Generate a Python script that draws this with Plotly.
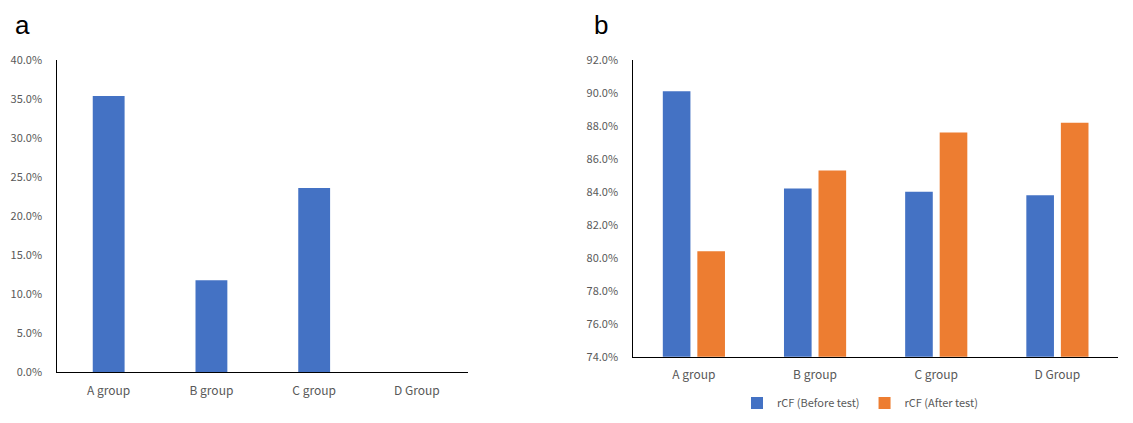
import plotly.graph_objects as go

categories = ["A group", "B group", "C group", "D Group"]
panel_a_values = [0.354, 0.118, 0.236, 0.0]
rcf_before = [0.901, 0.842, 0.840, 0.838]
rcf_after = [0.804, 0.853, 0.876, 0.882]
panel_a_ticks = [0.0, 0.05, 0.10, 0.15, 0.20, 0.25, 0.30, 0.35, 0.40]
panel_b_ticks = [0.74, 0.76, 0.78, 0.80, 0.82, 0.84, 0.86, 0.88, 0.90, 0.92]

BLUE = "#4472C4"
ORANGE = "#ED7D31"
FONT = "Noto Sans CJK KR"
TICK_COLOR = "#595959"

OFF = 8  # page body margin
W, H = 1133 - OFF, 423 - OFF
def px_x(a, b):
    return [(a - OFF) / W, (b - OFF) / W]
def px_y(top, bottom):
    return [(H - (bottom - OFF)) / H, (H - (top - OFF)) / H]
def pxx(a):
    return (a - OFF) / W
def pxy(a):
    return (H - (a - OFF)) / H

fig = go.Figure()
fig.add_trace(go.Bar(x=categories, y=panel_a_values, marker_color=BLUE,
                     marker_line_width=0, showlegend=False, xaxis="x", yaxis="y",
                     width=0.31))
fig.add_trace(go.Bar(x=categories, y=rcf_before, marker_color=BLUE, marker_line_width=0,
                     name="rCF (Before test)", xaxis="x2", yaxis="y2", base=0))
fig.add_trace(go.Bar(x=categories, y=rcf_after, marker_color=ORANGE, marker_line_width=0,
                     name="rCF (After test)", xaxis="x2", yaxis="y2", base=0))

axis_common = dict(showgrid=False, zeroline=False, showline=True, linecolor="#000000",
                   linewidth=1, automargin=False, ticks="")
x_font = dict(family=FONT, size=12, color=TICK_COLOR)
y_font = dict(family=FONT, size=11, color=TICK_COLOR)

fig.update_layout(
    width=W, height=H,
    margin=dict(l=0, r=0, t=0, b=0, autoexpand=False),
    paper_bgcolor="white", plot_bgcolor="white",
    barmode="group",
    bargap=0.43, bargroupgap=0.2,
    font=dict(family=FONT, color=TICK_COLOR),
    xaxis=dict(domain=px_x(57.3, 468.3), anchor="y", tickfont=x_font,
               ticklabelstandoff=7, **axis_common),
    yaxis=dict(domain=px_y(60, 372.3), anchor="x", range=[0, 0.40],
               tickvals=panel_a_ticks, tickformat=".1%", tickfont=y_font,
               ticklabelstandoff=12, **axis_common),
    xaxis2=dict(domain=px_x(633.3, 1118), anchor="y2", tickfont=x_font,
                ticklabelstandoff=7, **axis_common),
    yaxis2=dict(domain=px_y(60, 356.7), anchor="x2", range=[0.74, 0.92],
                tickvals=panel_b_ticks, tickformat=".1%", tickfont=y_font,
                ticklabelstandoff=12, **axis_common),
    legend=dict(orientation="h", x=pxx(860), xanchor="center", y=pxy(403),
                yanchor="middle", font=dict(family=FONT, size=11, color=TICK_COLOR),
                traceorder="normal", bgcolor="rgba(0,0,0,0)", itemwidth=30),
    annotations=[
        dict(text="a", x=pxx(22), y=pxy(25), xref="paper", yref="paper",
             xanchor="center", yanchor="middle", showarrow=False,
             font=dict(family="Liberation Sans", size=26, color="black")),
        dict(text="b", x=pxx(601), y=pxy(25), xref="paper", yref="paper",
             xanchor="center", yanchor="middle", showarrow=False,
             font=dict(family="Liberation Sans", size=26, color="black")),
    ],
)

fig.write_html("out.html")
